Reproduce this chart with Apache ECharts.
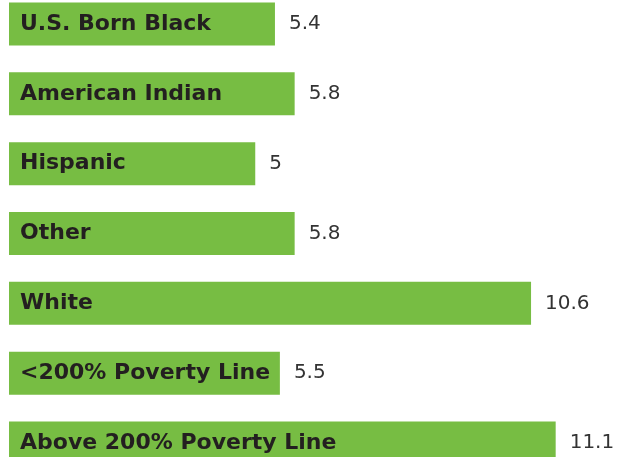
<!DOCTYPE html>
<html>
<head>
<meta charset="utf-8">
<script src="https://cdn.jsdelivr.net/npm/echarts@6/dist/echarts.min.js"></script>
<style>
  html, body { margin: 0; padding: 0; background: #fff; }
  #chart { width: 620px; height: 457px; }
</style>
</head>
<body>
<div id="chart"></div>
<script>
var categories = ['U.S. Born Black', 'American Indian', 'Hispanic', 'Other', 'White',
  '<200% Poverty Line', 'Above 200% Poverty Line'];
var values = [5.4, 5.8, 5, 5.8, 10.6, 5.5, 11.1];

var barColor = '#77bd43';
var textColor = '#231f20';

var chart = echarts.init(document.getElementById('chart'));

chart.setOption({
  animation: false,
  grid: {
    left: 9,
    right: 20,
    top: -11,
    bottom: -21,
    outerBoundsMode: 'none'
  },
  xAxis: {
    type: 'value',
    min: 0,
    max: 12,
    show: false
  },
  yAxis: {
    type: 'category',
    data: categories,
    inverse: true,
    show: false
  },
  series: [{
    // the visible bars, value printed to the right
    type: 'bar',
    data: values,
    barWidth: 43,
    barGap: '-100%',
    itemStyle: { color: barColor },
    label: {
      show: true,
      position: 'right',
      distance: 14,
      color: '#333',
      fontFamily: 'DejaVu Sans',
      fontSize: 20,
      fontWeight: 'normal'
    }
  }, {
    // same bars again, transparent, only to carry the category name
    type: 'bar',
    data: values,
    barWidth: 43,
    barGap: '-100%',
    itemStyle: { color: 'rgba(0,0,0,0)' },
    label: {
      show: true,
      position: 'insideLeft',
      distance: 11,
      formatter: '{b}',
      color: textColor,
      fontFamily: 'DejaVu Sans',
      fontSize: 22,
      fontWeight: 'bold'
    }
  }]
});
</script>
</body>
</html>
